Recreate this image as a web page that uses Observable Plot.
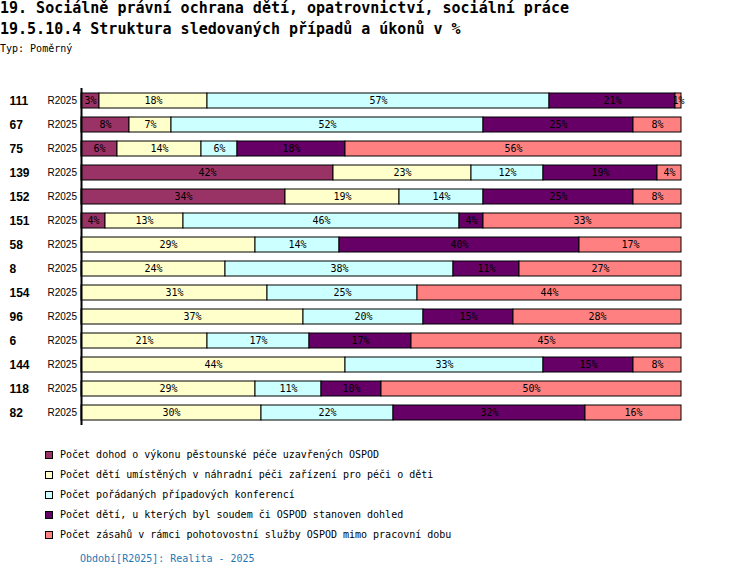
<!DOCTYPE html>
<html><head><meta charset="utf-8">
<script src="https://cdn.jsdelivr.net/npm/d3@7"></script>
<script src="https://cdn.jsdelivr.net/npm/@observablehq/plot@0.6"></script>
<style>
body{margin:0;background:#fff;width:750px;height:578px;position:relative;overflow:hidden;font-family:"DejaVu Sans Mono",monospace;}
.t{position:absolute;left:0;white-space:nowrap;color:#000}
.lg{position:absolute;left:45px;height:12px;line-height:12px;font-size:10px;white-space:nowrap;color:#000}
.sw{position:absolute;left:0;top:2px;width:8px;height:8px;box-sizing:border-box;border:1px solid #000}
.lt{position:absolute;left:15px;top:0}
</style></head><body>
<div class="t" style="top:0;font-size:15px;line-height:17px;font-weight:bold">19. Sociálně právní ochrana dětí, opatrovnictví, sociální práce</div>
<div class="t" style="top:21px;font-size:15px;line-height:17px;font-weight:bold">19.5.10.4 Struktura sledovaných případů a úkonů v %</div>
<div class="t" style="top:43px;font-size:10px;line-height:12px">Typ: Poměrný</div>
<div id="chart" style="position:absolute;left:0;top:82px"></div>
<div id="legend"></div>
<div class="t" id="footer" style="top:553px;left:80px;font-size:10px;line-height:12px;color:#1f77b4"></div>
<script>
const categories = ["111","67","75","139","152","151","58","8","154","96","6","144","118","82"];
const periods = ["R2025","R2025","R2025","R2025","R2025","R2025","R2025","R2025","R2025","R2025","R2025","R2025","R2025","R2025"];
const seriesNames = [
  "Počet dohod o výkonu pěstounské péče uzavřených OSPOD",
  "Počet dětí umístěných v náhradní péči zařízení pro péči o děti",
  "Počet pořádaných případových konferencí",
  "Počet dětí, u kterých byl soudem či OSPOD stanoven dohled",
  "Počet zásahů v rámci pohotovostní služby OSPOD mimo pracovní dobu"
];
const s1 = [3,8,6,42,34,4,0,0,0,0,0,0,0,0];
const s2 = [18,7,14,23,19,13,29,24,31,37,21,44,29,30];
const s3 = [57,52,6,12,14,46,14,38,25,20,17,33,11,22];
const s4 = [21,25,18,19,25,4,40,11,0,15,17,15,10,32];
const s5 = [1,8,56,4,8,33,17,27,44,28,45,8,50,16];
const colors = ["#993366","#FFFFCC","#CCFFFF","#660066","#FF8080"];
const footerText = "Období[R2025]: Realita - 2025";

const seriesValues = [s1,s2,s3,s4,s5];
const rows = [];
categories.forEach((c,i)=>{
  seriesValues.forEach((arr,j)=>{
    if(arr[i]>0) rows.push({cat:c, series:seriesNames[j], value:arr[i]});
  });
});

const chart = Plot.plot({
  width:750, height:350,
  marginLeft:81, marginRight:69, marginTop:6, marginBottom:7,
  x:{domain:[0,100], axis:null},
  y:{domain:categories, axis:null, paddingInner:0.37, paddingOuter:0.185},
  color:{domain:seriesNames, range:colors},
  style:{fontFamily:"DejaVu Sans Mono", fontSize:"10px", background:"transparent", overflow:"visible"},
  marks:[
    Plot.barX(rows, Plot.stackX({x:"value", y:"cat", z:"series", fill:"series", stroke:"#000", strokeWidth:1, order:null})),
    Plot.text(rows, Plot.stackX({x:"value", y:"cat", z:"series", order:null, text:d=>d.value+"%", fill:"#000", fontSize:10, fontFamily:"DejaVu Sans Mono"})),
    Plot.ruleX([0], {stroke:"#000", strokeWidth:2}),
    Plot.text(categories, {y:d=>d, text:d=>d, frameAnchor:"left", dx:-72, textAnchor:"start", fontWeight:"bold", fontFamily:"Liberation Sans", fontSize:12, fill:"#000"}),
    Plot.text(periods, {y:(d,i)=>categories[i], text:d=>d, frameAnchor:"left", dx:-34, textAnchor:"start", fontFamily:"Liberation Sans", fontSize:10, fill:"#000"})
  ]
});
document.getElementById("chart").appendChild(chart);

const lg = document.getElementById("legend");
seriesNames.forEach((name,k)=>{
  const row = document.createElement("div");
  row.className = "lg";
  row.style.top = (449 + 20*k) + "px";
  const sw = document.createElement("div");
  sw.className = "sw";
  sw.style.background = colors[k];
  const tx = document.createElement("div");
  tx.className = "lt";
  tx.textContent = name;
  row.appendChild(sw); row.appendChild(tx);
  lg.appendChild(row);
});
document.getElementById("footer").textContent = footerText;
</script>
</body></html>
